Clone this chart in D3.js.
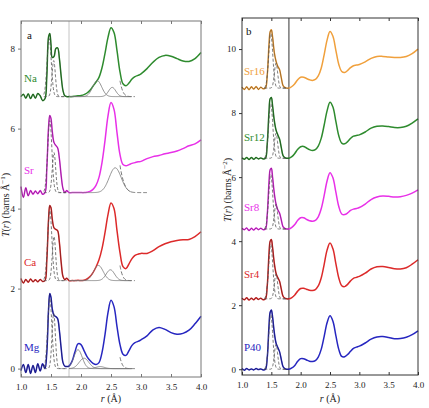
<!DOCTYPE html>
<html>
<head>
<meta charset="utf-8">
<script src="https://cdn.jsdelivr.net/npm/d3@7"></script>
<style>
  body { margin: 0; background: #fff; }
  text { font-family: "Liberation Serif", "DejaVu Serif", serif; }
</style>
</head>
<body>
<script>
// shared r grid (Å)
const rGrid = [1.00,1.04,1.08,1.12,1.16,1.20,1.24,1.28,1.32,1.36,1.40,1.43,1.46,1.48,1.50,1.52,1.55,1.58,1.61,1.64,1.67,1.70,1.73,1.76,1.80,1.85,1.90,1.95,2.00,2.05,2.10,2.15,2.20,2.25,2.30,2.35,2.40,2.45,2.50,2.55,2.60,2.65,2.70,2.75,2.80,2.85,2.90,2.95,3.00,3.10,3.20,3.30,3.40,3.50,3.60,3.70,3.80,3.90,4.00];

// panel a: T(r) above each baseline
const namesA = ["Na", "Sr", "Ca", "Mg"];
const offsetsA = [6.8, 4.4, 2.2, 0];
const colorsA = ["#2e8b2e", "#e830e8", "#dc2a2a", "#2626c0"];
const valNa = [0.0,0.06,-0.04,0.07,-0.05,0.06,-0.04,0.08,0.02,-0.1,-0.05,0.5,1.5,1.58,1.3,0.98,1.0,1.2,1.22,0.95,0.5,0.15,0.02,0.0,0.0,0.0,0.01,0.02,0.03,0.05,0.09,0.16,0.26,0.36,0.48,0.72,1.08,1.48,1.72,1.6,1.15,0.62,0.32,0.27,0.34,0.44,0.5,0.53,0.57,0.7,0.86,0.98,1.03,1.01,0.95,0.89,0.88,0.95,1.1];
const valSrA = [0.15,-0.12,0.12,-0.08,0.05,-0.04,0.04,-0.03,0.05,-0.04,0.0,0.6,1.65,1.93,1.85,1.55,1.25,1.18,1.12,0.85,0.42,0.1,0.0,0.05,0.0,0.0,0.0,0.0,0.0,0.0,0.01,0.03,0.08,0.18,0.38,0.75,1.3,1.92,2.25,2.08,1.5,0.95,0.7,0.67,0.7,0.73,0.75,0.77,0.78,0.85,0.9,0.93,0.97,1.0,1.04,1.1,1.17,1.22,1.32];
const valCa = [0.05,-0.06,0.03,-0.04,0.04,-0.03,0.02,-0.03,0.03,-0.02,0.0,0.5,1.55,1.88,1.82,1.55,1.32,1.28,1.25,0.95,0.45,0.1,0.02,0.06,0.0,0.0,0.0,0.01,0.0,0.01,0.04,0.1,0.2,0.34,0.52,0.8,1.2,1.65,1.94,1.8,1.25,0.7,0.35,0.3,0.42,0.55,0.63,0.66,0.68,0.68,0.75,0.85,0.92,0.97,1.0,1.02,1.03,1.1,1.22];
const valMg = [-0.05,0.1,-0.1,0.1,-0.12,0.08,-0.1,0.12,-0.06,0.12,0.0,0.4,1.5,1.875,1.78,1.5,1.33,1.3,1.25,0.95,0.5,0.15,0.06,0.05,0.06,0.18,0.42,0.62,0.6,0.45,0.3,0.2,0.13,0.1,0.15,0.4,0.85,1.4,1.71,1.55,1.05,0.6,0.36,0.33,0.45,0.58,0.65,0.68,0.72,0.82,0.97,1.03,0.98,0.9,0.86,0.88,0.96,1.12,1.31];
const valuesA = [valNa, valSrA, valCa, valMg];

// panel b
const namesB = ["Sr16", "Sr12", "Sr8", "Sr4", "P40"];
const offsetsB = [8.78, 6.59, 4.38, 2.2, 0];
const colorsB = ["#f0a03c", "#2e8b2e", "#e830e8", "#dc2a2a", "#2626c0"];
const valSr16 = [0.03,-0.04,0.04,-0.05,0.04,-0.03,0.05,-0.04,0.03,-0.02,0.0,0.4,1.35,1.76,1.82,1.62,1.12,0.84,0.68,0.58,0.32,0.08,0.02,0.0,0.0,0.05,0.14,0.26,0.34,0.34,0.3,0.26,0.24,0.27,0.38,0.62,1.04,1.5,1.77,1.62,1.18,0.74,0.52,0.49,0.55,0.64,0.7,0.72,0.74,0.82,0.93,0.99,0.99,0.97,0.96,0.96,0.99,1.08,1.22];
const valSr12 = [0.01,-0.03,0.02,-0.04,0.02,-0.03,0.02,-0.02,0.01,-0.02,0.0,0.45,1.45,1.86,1.9,1.66,1.18,0.88,0.73,0.6,0.33,0.08,0.02,0.0,0.0,0.05,0.15,0.28,0.36,0.37,0.32,0.27,0.24,0.27,0.38,0.62,1.03,1.48,1.75,1.6,1.15,0.7,0.47,0.45,0.52,0.62,0.69,0.71,0.73,0.82,0.94,1.0,1.01,0.99,0.96,0.96,1.0,1.1,1.23];
const valSr8 = [0.02,-0.02,0.03,-0.05,0.02,-0.03,0.03,-0.02,0.02,-0.02,0.0,0.45,1.45,1.85,1.9,1.64,1.12,0.78,0.6,0.5,0.28,0.07,0.02,0.0,0.0,0.05,0.14,0.27,0.35,0.35,0.3,0.26,0.24,0.27,0.38,0.63,1.04,1.5,1.76,1.6,1.15,0.7,0.47,0.45,0.5,0.58,0.62,0.64,0.67,0.78,0.92,1.0,1.03,1.02,1.0,1.01,1.05,1.12,1.22];
const valSr4 = [0.02,-0.03,0.03,-0.04,0.02,-0.03,0.03,-0.02,0.02,-0.03,0.0,0.4,1.4,1.8,1.85,1.62,1.12,0.8,0.66,0.55,0.3,0.08,0.02,0.0,0.0,0.04,0.12,0.24,0.32,0.33,0.3,0.27,0.26,0.29,0.4,0.65,1.07,1.52,1.74,1.56,1.1,0.65,0.41,0.38,0.45,0.56,0.64,0.67,0.7,0.8,0.93,1.0,1.01,0.98,0.94,0.93,0.97,1.08,1.22];
const valP40 = [0.02,-0.03,0.02,-0.02,0.01,-0.02,0.02,-0.01,0.01,-0.02,0.0,0.35,1.35,1.78,1.85,1.65,1.15,0.82,0.68,0.55,0.3,0.08,0.02,0.0,0.0,0.04,0.12,0.25,0.33,0.33,0.29,0.25,0.24,0.27,0.38,0.62,1.02,1.45,1.67,1.5,1.05,0.62,0.4,0.39,0.46,0.56,0.65,0.69,0.72,0.82,0.94,1.01,1.02,0.99,0.95,0.96,1.0,1.08,1.2];
const valuesB = [valSr16, valSr12, valSr8, valSr4, valP40];

// fitted P-O peaks (dashed): [centre, height, width]
const poPeaksA = [[[1.47,1.45,0.035],[1.545,0.9,0.028]], [[1.48,1.8,0.035],[1.55,1.0,0.028]], [[1.48,1.75,0.035],[1.55,1.1,0.028]], [[1.48,1.75,0.035],[1.545,1.38,0.028]]];
const poPeaksB = [[1.49,1.7,0.035],[1.58,0.78,0.028]];
// fitted M-O peaks (solid grey) and O-O peak, panel a
const moPeaksA = [[[2.27,0.40,0.075],[2.52,0.23,0.06]], [[2.57,0.62,0.1]], [[2.29,0.38,0.08],[2.49,0.27,0.07]], [[1.95,0.47,0.07],[2.05,0.26,0.08],[2.32,0.05,0.07]]];
const ooPeaksA = [[2.51,1.45,0.085], [2.49,1.7,0.08], [2.51,1.65,0.08], [2.5,1.65,0.08]];
const fitEndA = [2.9, 3.1, 2.9, 2.9];

const xTicks = [1.0, 1.5, 2.0, 2.5, 3.0, 3.5, 4.0];

const W = 429, H = 408;
const svg = d3.select("body").append("svg").attr("width", W).attr("height", H);

const gauss = (r, p) => p[1] * Math.exp(-((r - p[0]) ** 2) / (2 * p[2] * p[2]));

function drawPanel(o) {
  const x = d3.scaleLinear().domain([1, 4]).range([o.left, o.right]);
  const y = d3.scaleLinear().domain(o.yDomain).range([o.bottom, o.top]);
  const g = svg.append("g");

  // 1.8 Å marker
  g.append("line").attr("x1", x(1.8)).attr("x2", x(1.8))
    .attr("y1", o.top).attr("y2", o.bottom)
    .attr("stroke", o.markColor).attr("stroke-width", 1);

  const line = d3.line().x(d => x(d[0])).y(d => y(d[1])).curve(d3.curveCatmullRom.alpha(0.5));

  o.values.forEach((vals, i) => {
    const off = o.offsets[i];
    const pts = rGrid.map((r, k) => [r, vals[k] + off]);

    // fit tail (drawn under the data)
    if (o.moPeaks) {
      const all = o.moPeaks[i].concat([o.ooPeaks[i]]);
      const rt = d3.range(2.65, fitEndA[i] + 0.001, 0.01);
      g.append("path").attr("d", line(rt.map(r => [r, d3.sum(all, p => gauss(r, p)) + off])))
        .attr("fill", "none").attr("stroke", "#555").attr("stroke-width", 0.8)
        .attr("stroke-dasharray", "4,2");
    }

    // data
    g.append("path").attr("d", line(pts)).attr("fill", "none")
      .attr("stroke", o.colors[i]).attr("stroke-width", 1.5);
    // fit over low r
    g.append("path").attr("d", line(pts.filter(p => p[0] <= 1.8)))
      .attr("fill", "none").attr("stroke", "#111").attr("stroke-width", 0.6).attr("opacity", 0.6);

    // dashed P-O components
    const rr = d3.range(1.38, 1.76, 0.005);
    o.poPeaks[i].forEach(p => {
      g.append("path").attr("d", line(rr.map(r => [r, gauss(r, p) + off])))
        .attr("fill", "none").attr("stroke", "#555").attr("stroke-width", 0.8)
        .attr("stroke-dasharray", "3,2");
    });

    // M-O components
    if (o.moPeaks) {
      const rm = d3.range(1.8, 2.85, 0.01);
      o.moPeaks[i].forEach(p => {
        g.append("path").attr("d", line(rm.map(r => [r, gauss(r, p) + off])))
          .attr("fill", "none").attr("stroke", "#777").attr("stroke-width", 0.8);
      });
    }

    g.append("text").attr("x", o.labelX).attr("y", o.labelY[i])
      .attr("dy", "0.35em").attr("font-size", 11).attr("fill", o.colors[i])
      .text(o.names[i]);
  });

  // frame
  g.append("rect").attr("x", o.left).attr("y", o.top)
    .attr("width", o.right - o.left).attr("height", o.bottom - o.top)
    .attr("fill", "none").attr("stroke", o.frameColor).attr("stroke-width", 1);

  const axB = g.append("g").attr("transform", `translate(0,${o.bottom})`)
    .call(d3.axisBottom(x).tickValues(xTicks).tickFormat(d3.format(".1f")).tickSize(-3).tickPadding(7));
  const axT = g.append("g").attr("transform", `translate(0,${o.top})`)
    .call(d3.axisTop(x).tickValues(xTicks).tickFormat("").tickSize(-3));
  const axL = g.append("g").attr("transform", `translate(${o.left},0)`)
    .call(d3.axisLeft(y).tickValues(o.yTicks).tickFormat(d3.format("d")).tickSize(3).tickPadding(3));
  [axB, axT, axL].forEach(a => {
    a.select(".domain").remove();
    a.selectAll("line").attr("stroke", o.frameColor);
    a.selectAll("text").attr("font-size", 9).attr("fill", "#222")
      .style("font-family", '"Liberation Serif", serif');
  });

  // panel letter
  g.append("text").attr("x", o.letterX).attr("y", o.letterY).attr("dy", "0.35em")
    .attr("font-size", 11).attr("fill", "#111").text(o.letter);

  // axis titles
  const xt = g.append("text").attr("x", (o.left + o.right) / 2).attr("y", 402)
    .attr("text-anchor", "middle").attr("font-size", 10).attr("fill", "#222");
  xt.append("tspan").attr("font-style", "italic").text("r");
  xt.append("tspan").text(" (Å)");

  const yt = g.append("text").attr("transform", `translate(${o.yTitleX},${o.yTitleY}) rotate(-90)`)
    .attr("text-anchor", "middle").attr("font-size", 10).attr("fill", "#222");
  yt.append("tspan").attr("font-style", "italic").text("T");
  yt.append("tspan").text("(");
  yt.append("tspan").attr("font-style", "italic").text("r");
  yt.append("tspan").text(") (barns Å");
  yt.append("tspan").attr("font-size", 7).attr("dy", -4).text(o.yExp);
  yt.append("tspan").attr("dy", 4).text(")");
}

drawPanel({
  left: 21, right: 201, top: 21, bottom: 377,
  yDomain: [-0.21, 8.69], yTicks: [0, 2, 4, 6, 8],
  names: namesA, offsets: offsetsA, colors: colorsA, values: valuesA,
  poPeaks: poPeaksA, moPeaks: moPeaksA, ooPeaks: ooPeaksA,
  labelX: 24, labelY: [78, 170, 262, 347],
  frameColor: "#777", markColor: "#c4c4c4",
  letter: "a", letterX: 27, letterY: 35,
  yTitleX: 9, yTitleY: 205, yExp: "−1"
});

drawPanel({
  left: 242, right: 418, top: 18, bottom: 375,
  yDomain: [-0.18, 10.97], yTicks: [0, 2, 4, 6, 8, 10],
  names: namesB, offsets: offsetsB, colors: colorsB, values: valuesB,
  poPeaks: namesB.map(() => poPeaksB), moPeaks: null,
  labelX: 244, labelY: [71, 137, 207, 274, 347],
  frameColor: "#333", markColor: "#333",
  letter: "b", letterX: 246, letterY: 31,
  yTitleX: 231, yTitleY: 190, yExp: "−2"
});
</script>
</body>
</html>
